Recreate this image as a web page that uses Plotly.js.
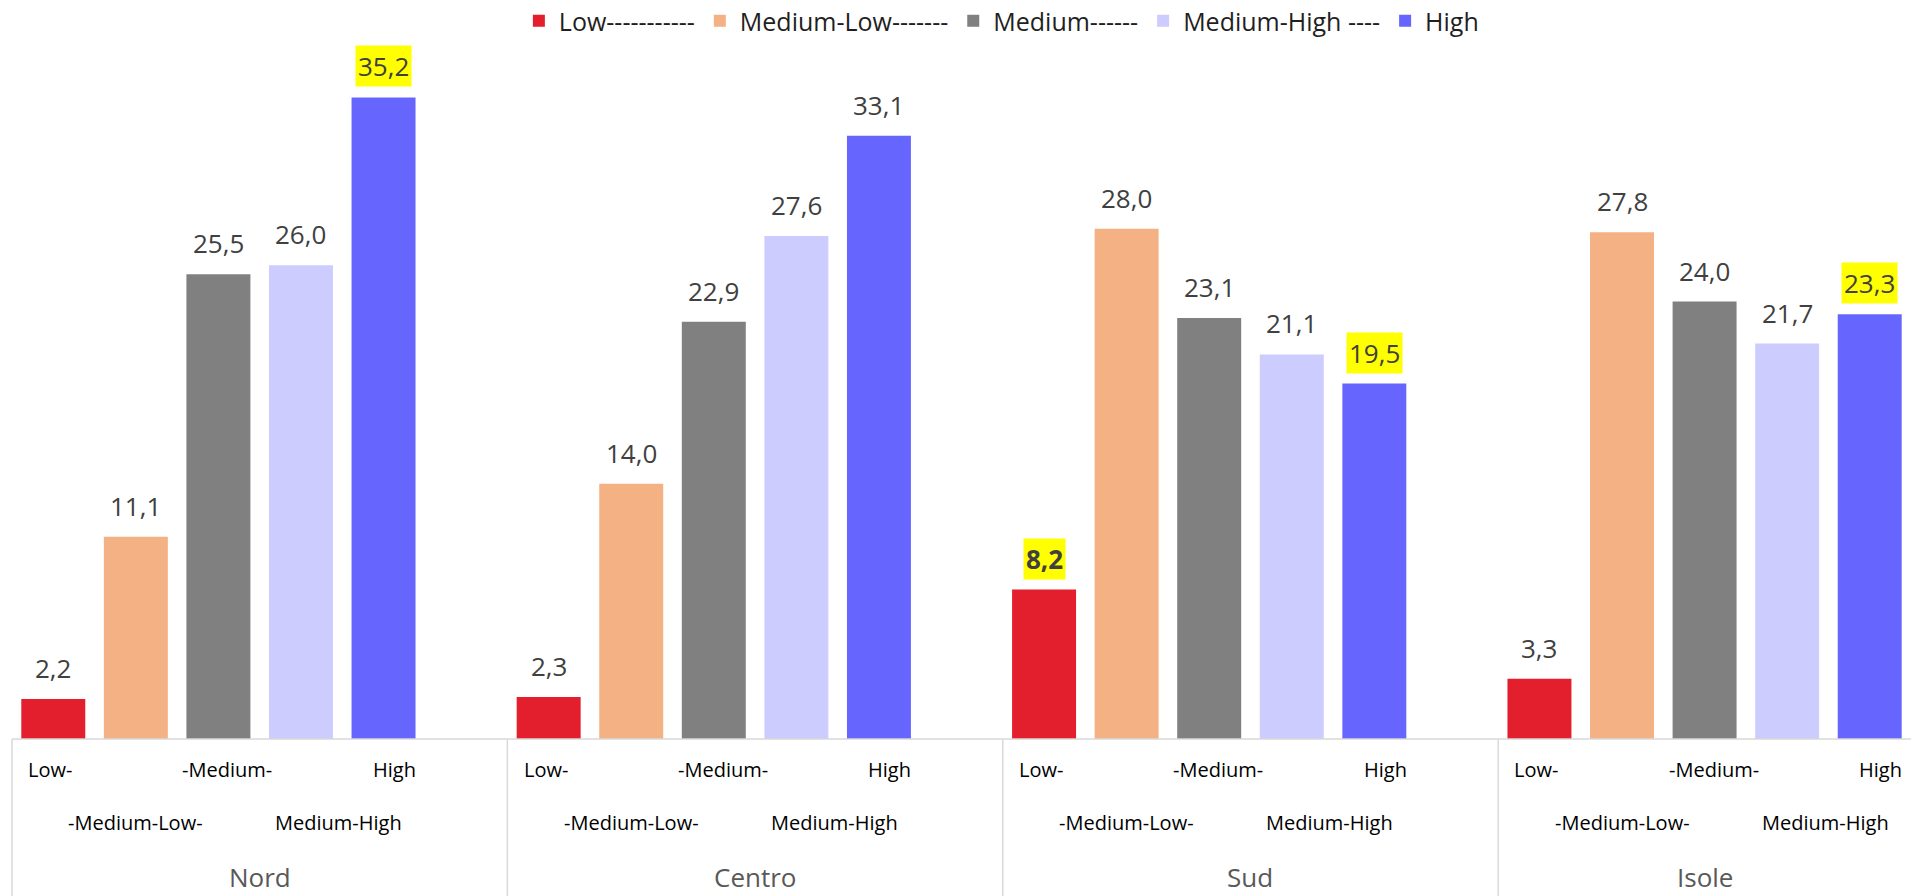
<!DOCTYPE html>
<html>
<head>
<meta charset="utf-8">
<script src="https://cdn.plot.ly/plotly-3.0.1.min.js"></script>
<style>
  html, body { margin: 0; padding: 0; background: #ffffff; overflow: hidden; }
  #chart { width: 1911px; height: 896px; }
</style>
</head>
<body>
<div id="chart"></div>
<script>
// Regions (outer categories) and the five levels drawn inside each region
const regions = ['Nord', 'Centro', 'Sud', 'Isole'];
const legendNames = ['Low-----------', 'Medium-Low-------', 'Medium------', 'Medium-High ----', 'High'];
const tickLabels = ['Low-', '-Medium-Low-', '-Medium-', 'Medium-High', 'High'];

// Percentages per level, one value per region
const low        = [2.2, 2.3, 8.2, 3.3];
const mediumLow  = [11.1, 14.0, 28.0, 27.8];
const medium     = [25.5, 22.9, 23.1, 24.0];
const mediumHigh = [26.0, 27.6, 21.1, 21.7];
const high       = [35.2, 33.1, 19.5, 23.3];

// Labels shown on a yellow background: [region index, level index]
const highlighted = [[0, 4], [2, 0], [2, 4], [3, 4]];
const boldLabels  = [[2, 0]];

const series = [low, mediumLow, medium, mediumHigh, high];
const colors = ['#E31E2D', '#F4B183', '#808080', '#CCCCFF', '#6666FF'];

// Each region reserves six slots; the five levels fill the first five
const SLOTS = 6;
const SLOT_PX = 82.6;
const X_MIN = -12 / SLOT_PX;
const X_MAX = 23;
const BAR_W = 64 / SLOT_PX;

const FONT = '"Open Sans", "Noto Sans", sans-serif';

const slotX = (r, j) => r * SLOTS + j + 0.5;
const fmt = v => v.toFixed(1).replace('.', ',');
const inList = (list, r, j) => list.some(p => p[0] === r && p[1] === j);

const traces = series.map((vals, j) => ({
  type: 'bar',
  name: legendNames[j],
  x: regions.map((_, r) => slotX(r, j)),
  y: vals,
  width: BAR_W,
  marker: { color: colors[j], line: { width: 0 } },
  hoverinfo: 'skip'
}));

const annotations = [];

// Value labels above each bar
series.forEach((vals, j) => {
  vals.forEach((v, r) => {
    const hl = inList(highlighted, r, j);
    const bold = inList(boldLabels, r, j);
    annotations.push({
      xref: 'x', yref: 'y',
      x: slotX(r, j), y: v,
      text: bold ? '<b>' + fmt(v) + '</b>' : fmt(v),
      showarrow: false,
      xanchor: 'center', yanchor: 'bottom',
      yshift: 10,
      bgcolor: hl ? '#FFFF00' : 'rgba(0,0,0,0)',
      borderpad: 2,
      font: { family: FONT, size: 26, color: '#404040' }
    });
  });
});

// Level labels under the axis, staggered on two rows
const labelRowY = [-0.0425, -0.1152];
const labelRow = [0, 1, 0, 1, 0];
const labelShift = [-3, 0, 9, 38, 11];
regions.forEach((_, r) => {
  tickLabels.forEach((t, j) => {
    annotations.push({
      xref: 'x', yref: 'paper',
      x: slotX(r, j), y: labelRowY[labelRow[j]],
      xshift: labelShift[j],
      text: t, showarrow: false,
      xanchor: 'center', yanchor: 'middle',
      font: { family: FONT, size: 20, color: '#000000' }
    });
  });
});

// Region names, centred in the visible part of each region box
regions.forEach((name, r) => {
  const x0 = r * SLOTS;
  const x1 = Math.min(x0 + SLOTS, X_MAX);
  annotations.push({
    xref: 'x', yref: 'paper',
    x: (x0 + x1) / 2, y: -0.1893,
    text: name, showarrow: false,
    xanchor: 'center', yanchor: 'middle',
    font: { family: FONT, size: 26, color: '#595959' }
  });
});

// Axis line and the region dividers below it
const lineStyle = { color: '#D9D9D9', width: 1.5 };
const shapes = [{
  type: 'line', xref: 'x', yref: 'paper',
  x0: 0, x1: X_MAX, y0: 0, y1: 0, line: lineStyle, layer: 'above'
}];
regions.forEach((_, r) => {
  shapes.push({
    type: 'line', xref: 'x', yref: 'paper',
    x0: r * SLOTS, x1: r * SLOTS, y0: 0, y1: -0.2154, line: lineStyle
  });
});

const layout = {
  width: 1911,
  height: 896,
  margin: { l: 0, r: 0, t: 10, b: 157, pad: 0, autoexpand: false },
  paper_bgcolor: '#ffffff',
  plot_bgcolor: '#ffffff',
  font: { family: FONT, color: '#404040' },
  barmode: 'overlay',
  xaxis: {
    range: [X_MIN, X_MAX],
    showgrid: false, zeroline: false, showline: false,
    showticklabels: false, ticks: '', fixedrange: true
  },
  yaxis: {
    range: [0, 40],
    visible: false, showgrid: false, zeroline: false, fixedrange: true
  },
  showlegend: true,
  legend: {
    orientation: 'h',
    x: 0.524, xanchor: 'center',
    y: 0.9849, yanchor: 'middle',
    itemwidth: 30,
    traceorder: 'normal',
    bgcolor: 'rgba(0,0,0,0)',
    font: { family: FONT, size: 25, color: '#1f1f1f' }
  },
  annotations: annotations,
  shapes: shapes
};

Plotly.newPlot('chart', traces, layout, { displayModeBar: false, staticPlot: true });
</script>
</body>
</html>
